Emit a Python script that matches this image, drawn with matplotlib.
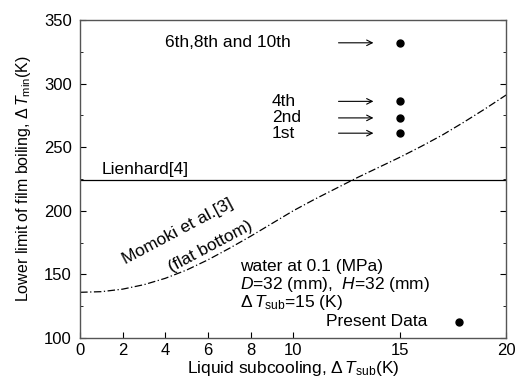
import numpy as np
import matplotlib.pyplot as plt
from matplotlib.ticker import MultipleLocator

plt.rcParams['font.family'] = ['Liberation Sans', 'DejaVu Sans']
plt.rcParams['mathtext.fontset'] = 'custom'
plt.rcParams['mathtext.rm'] = 'Liberation Sans'
plt.rcParams['mathtext.it'] = 'Liberation Sans:italic'

# Momoki et al. correlation (flat bottom)
momoki_x = [0, 1, 2, 3, 4, 5, 6, 7, 8, 9, 10, 11, 12, 13, 14, 15, 16, 17, 18, 19, 20]
momoki_y = [136, 136.5, 138.5, 142, 147, 153.5, 161.5, 170.5, 180, 190, 200,
            209, 217.5, 226, 234, 242, 250.5, 259.5, 269.5, 280, 291]

# Lienhard constant
lienhard_y = 224

# Present data at dT_sub = 15 K
data_x = [15, 15, 15, 15]
data_y = [332, 286, 273, 261]
data_labels = ['6th,8th and 10th', '4th', '2nd', '1st']
label_x = [4.0, 9.0, 9.0, 9.0]

xticks = [0, 2, 4, 6, 8, 10, 15, 20]

fs = 12.5

fig = plt.figure(figsize=(5.17, 3.9), dpi=100)
ax = fig.add_axes([0.155, 0.133, 0.824, 0.816])

ax.plot(momoki_x, momoki_y, color='black', lw=0.9, ls=(0, (6, 2, 1, 2)))
ax.axhline(lienhard_y, color='black', lw=0.9)
ax.plot(data_x, data_y, 'o', color='black', ms=5)

for lx, ly, lab in zip(label_x, data_y, data_labels):
    ax.text(lx, ly, lab, fontsize=fs, va='center', ha='left')
    ax.annotate('', xy=(13.9, ly), xytext=(12.0, ly),
                arrowprops=dict(arrowstyle='->', color='black', lw=0.8))

ax.text(1.0, 226.5, 'Lienhard[4]', fontsize=fs, va='bottom')
ax.text(4.6, 184, 'Momoki et al.[3]', fontsize=fs, rotation=28,
        ha='center', va='center', rotation_mode='anchor')
ax.text(6.1, 172, '(flat bottom)', fontsize=fs, rotation=28,
        ha='center', va='center', rotation_mode='anchor')

ax.text(7.5, 156, 'water at 0.1 (MPa)', fontsize=fs, va='center')
ax.text(7.5, 142, '$D$=32 (mm),  $H$=32 (mm)', fontsize=fs, va='center')
ax.text(7.5, 128, r'$\Delta\,T_{\rm sub}$=15 (K)', fontsize=fs, va='center')
ax.text(16.3, 113, 'Present Data', fontsize=fs, va='center', ha='right')
ax.plot([17.8], [113], 'o', color='black', ms=5)

ax.set_xlim(0, 20)
ax.set_ylim(100, 350)
ax.set_xticks(xticks)
ax.yaxis.set_major_locator(MultipleLocator(50))
ax.yaxis.set_minor_locator(MultipleLocator(25))
ax.tick_params(direction='in', which='both', right=True, labelsize=12)
ax.tick_params(axis='y', which='major', pad=6)
ax.tick_params(which='major', length=4)
ax.tick_params(which='minor', length=2.5)
for s in ax.spines.values():
    s.set_color('#555555')
    s.set_linewidth(1)

ax.set_xlabel(r'Liquid subcooling, $\Delta\,T_{\rm sub}$(K)', fontsize=12.5, labelpad=1)
ax.set_ylabel(r'Lower limit of film boiling, $\Delta\,T_{\rm min}$(K)', fontsize=11.5, labelpad=8)

fig.savefig('out.png', dpi=100)
